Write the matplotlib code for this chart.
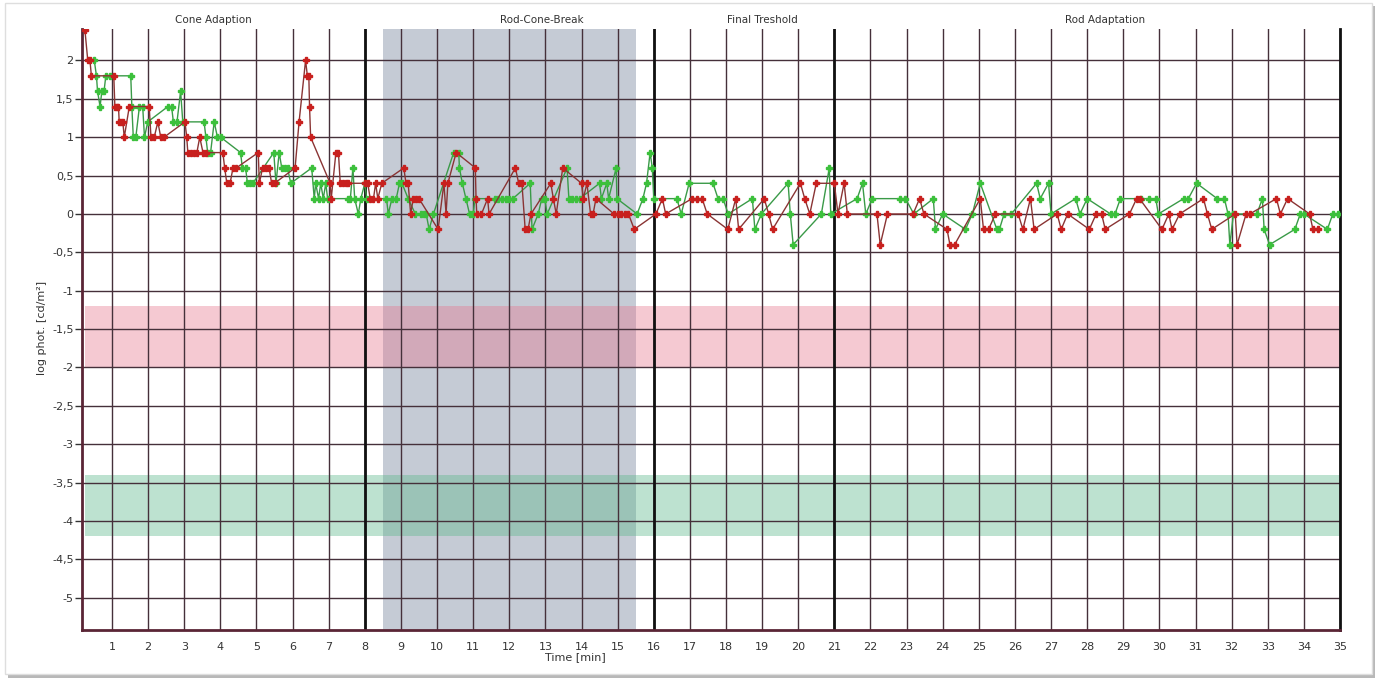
import matplotlib
matplotlib.use("Agg")
import matplotlib.pyplot as plt
import matplotlib.patches as mpatches
import matplotlib.transforms as mtrans

plt.rcParams['font.family'] = ['DejaVu Sans']
plt.rcParams['axes.unicode_minus'] = False

# ---------------- data ----------------
red_x = [0.25,0.33,0.39,0.43,1.05,1.08,1.13,1.18,1.20,1.25,1.30,1.34,1.48,2.03,2.08,2.17,2.27,2.35,2.44,
         3.02,3.07,3.10,3.18,3.27,3.35,3.43,3.52,3.60,4.07,4.12,4.18,4.27,4.35,4.44,5.05,5.08,5.17,5.26,5.35,
         5.42,5.50,6.07,6.18,6.36,6.41,6.45,6.47,6.50,7.04,7.07,7.20,7.27,7.32,7.40,7.47,7.54,8.00,8.08,8.15,
         8.24,8.30,8.36,8.47,9.08,9.14,9.20,9.27,9.34,9.42,9.50,10.03,10.19,10.25,10.30,10.53,11.06,11.08,
         11.10,11.23,11.40,11.44,12.17,12.26,12.35,12.44,12.52,12.60,13.15,13.22,13.30,13.48,14.00,14.05,
         14.15,14.25,14.32,14.40,14.90,15.00,15.10,15.20,15.30,15.46,16.06,16.24,16.33,17.06,17.20,17.34,
         17.48,18.05,18.27,18.35,19.06,19.18,19.29,20.06,20.18,20.32,20.50,21.00,21.10,21.27,21.36,22.18,
         22.27,22.47,23.18,23.36,23.48,24.12,24.20,24.33,25.04,25.13,25.27,25.46,26.09,26.22,26.43,26.53,
         27.17,27.28,27.46,28.06,28.25,28.40,28.50,29.17,29.37,29.45,30.07,30.26,30.35,30.56,31.22,31.33,
         31.45,32.10,32.15,32.40,32.50,33.24,33.35,33.55,34.16,34.25,34.40]
red_y = [2.4,2.0,2.0,1.8,1.8,1.4,1.4,1.4,1.2,1.2,1.2,1.0,1.4,1.4,1.0,1.0,1.2,1.0,1.0,
         1.2,1.0,0.8,0.8,0.8,0.8,1.0,0.8,0.8,0.8,0.6,0.4,0.4,0.6,0.6,0.8,0.4,0.6,0.6,0.6,
         0.4,0.4,0.6,1.2,2.0,1.8,1.8,1.4,1.0,0.4,0.2,0.8,0.8,0.4,0.4,0.4,0.4,0.4,0.4,0.2,
         0.2,0.4,0.2,0.4,0.6,0.4,0.4,0.0,0.2,0.2,0.2,-0.2,0.4,0.0,0.4,0.8,0.6,0.2,
         0.0,0.0,0.2,0.0,0.6,0.4,0.4,-0.2,-0.2,0.0,0.4,0.2,0.0,0.6,0.4,0.2,
         0.4,0.0,0.0,0.2,0.0,0.0,0.0,0.0,0.0,-0.2,0.0,0.2,0.0,0.2,0.2,0.2,
         0.0,-0.2,0.2,-0.2,0.2,0.0,-0.2,0.4,0.2,0.0,0.4,0.4,0.0,0.4,0.0,0.0,
         -0.4,0.0,0.0,0.2,0.0,-0.2,-0.4,-0.4,0.2,-0.2,-0.2,0.0,0.0,-0.2,0.2,-0.2,
         0.0,-0.2,0.0,-0.2,0.0,0.0,-0.2,0.0,0.2,0.2,-0.2,0.0,-0.2,0.0,0.2,0.0,
         -0.2,0.0,-0.4,0.0,0.0,0.2,0.0,0.2,0.0,-0.2,-0.2]

green_x = [0.51,0.57,0.60,0.67,0.72,0.78,0.83,0.94,1.52,1.55,1.59,1.66,1.76,1.85,1.90,1.99,2.55,2.65,2.70,
           2.80,2.90,2.96,3.55,3.60,3.65,3.73,3.83,3.92,4.01,4.56,4.61,4.70,4.75,4.83,4.90,5.48,5.54,5.63,
           5.70,5.78,5.86,5.95,6.53,6.60,6.64,6.72,6.78,6.85,6.92,6.97,7.54,7.60,7.67,7.72,7.82,7.89,8.00,
           8.05,8.60,8.65,8.75,8.87,8.96,9.03,9.20,9.40,9.55,9.65,9.70,9.78,9.90,10.46,10.60,10.62,10.70,
           10.80,10.90,11.00,11.05,11.60,11.70,11.80,11.90,12.00,12.10,12.58,12.63,12.80,12.90,12.98,13.05,
           13.60,13.65,13.75,13.85,13.95,14.50,14.55,14.70,14.75,14.96,14.98,15.54,15.70,15.80,15.90,15.96,
           16.00,16.64,16.76,16.98,17.64,17.78,17.92,18.06,18.73,18.80,18.98,19.72,19.78,19.86,20.64,20.86,
           20.90,21.63,21.78,21.87,22.05,22.83,22.97,23.20,23.74,23.80,24.00,24.63,24.82,25.04,25.50,25.57,
           25.70,25.90,26.60,26.70,26.93,27.00,27.68,27.80,28.00,28.65,28.77,28.92,29.50,29.70,29.90,29.97,
           30.67,30.80,31.03,31.60,31.80,31.90,31.95,32.05,32.70,32.85,32.90,33.05,33.75,33.90,34.00,34.65,
           34.80,34.95]
green_y = [2.0,1.8,1.6,1.4,1.6,1.6,1.8,1.8,1.8,1.4,1.0,1.0,1.4,1.4,1.0,1.2,1.4,1.4,1.2,
           1.2,1.6,1.2,1.2,1.0,0.8,0.8,1.2,1.0,1.0,0.8,0.6,0.6,0.4,0.4,0.4,0.8,0.4,0.8,
           0.6,0.6,0.6,0.4,0.6,0.2,0.4,0.2,0.4,0.2,0.4,0.2,0.2,0.2,0.6,0.2,0.0,0.2,0.4,
           0.2,0.2,0.0,0.2,0.2,0.4,0.4,0.2,0.0,0.0,0.0,0.0,-0.2,0.0,0.8,0.8,0.6,0.4,
           0.2,0.0,0.0,0.2,0.2,0.2,0.2,0.2,0.2,0.2,0.4,-0.2,0.0,0.2,0.2,0.0,
           0.6,0.2,0.2,0.2,0.2,0.4,0.2,0.4,0.2,0.6,0.2,0.0,0.2,0.4,0.8,0.6,
           0.2,0.2,0.0,0.4,0.4,0.2,0.2,0.0,0.2,-0.2,0.0,0.4,0.0,-0.4,0.0,0.6,
           0.0,0.2,0.4,0.0,0.2,0.2,0.2,0.0,0.2,-0.2,0.0,-0.2,0.0,0.4,-0.2,-0.2,
           0.0,0.0,0.4,0.2,0.4,0.0,0.2,0.0,0.2,0.0,0.0,0.2,0.2,0.2,0.2,0.0,
           0.2,0.2,0.4,0.2,0.2,0.0,-0.4,0.0,0.0,0.2,-0.2,-0.4,-0.2,0.0,0.0,-0.2,
           0.0,0.0]

phase_names = ["Cone Adaption", "Rod-Cone-Break", "Final Treshold", "Rod Adaptation"]
phase_bounds = [8, 16, 21]
break_span = (8.5, 15.5)
red_band = (-2.0, -1.2)
green_band = (-4.2, -3.4)
x_ticks = list(range(1, 36))
y_ticks = [2, 1.5, 1, 0.5, 0, -0.5, -1, -1.5, -2, -2.5, -3, -3.5, -4, -4.5, -5]

# ---------------- figure ----------------
W, H = 1378, 678
fig = plt.figure(figsize=(W / 100, H / 100), dpi=100)
fig.patch.set_facecolor('white')

# frame with shadow
fig.add_artist(mpatches.Rectangle((8 / W, 0 / H), 1367 / W, 672 / H, transform=fig.transFigure,
                                  facecolor='#b8b8b8', edgecolor='none', zorder=-2))
fig.add_artist(mpatches.Rectangle((5 / W, 4 / H), 1367 / W, 671 / H, transform=fig.transFigure,
                                  facecolor='white', edgecolor='#dedede', lw=1, zorder=-1))

ax = fig.add_axes([82 / W, 48 / H, 1258 / W, 601 / H])
ax.set_xlim(0.17, 35)
ax.set_ylim(-5.42, 2.41)
ax.set_facecolor('none')

gridc = '#45303a'
for xv in x_ticks:
    ax.axvline(xv, color=gridc, lw=1.0, zorder=2)
for yv in y_ticks:
    ax.axhline(yv, color=gridc, lw=1.0, zorder=2)
for xb in phase_bounds:
    ax.axvline(xb, color='#111111', lw=2.0, zorder=2.5)

ax.axvspan(break_span[0], break_span[1], color='#c5cbd5', lw=0, zorder=1)
ax.fill_between([0.25, 35], red_band[0], red_band[1], color='#e8788f', alpha=0.4, lw=0, zorder=1.5)
ax.fill_between([0.25, 35], green_band[0], green_band[1], color='#5cb88a', alpha=0.4, lw=0, zorder=1.5)

ax.plot(green_x, green_y, color='#3a9a48', lw=1.0, marker='P', ms=4.5,
        mfc='#3cc03c', mec='#3cc03c', zorder=4)
ax.plot(red_x, red_y, color='#8a3434', lw=1.0, marker='P', ms=4.5,
        mfc='#c8201e', mec='#c8201e', zorder=5)

for s in ['top']:
    ax.spines[s].set_visible(False)
ax.spines['left'].set_color('#5a2535')
ax.spines['left'].set_linewidth(2)
ax.spines['bottom'].set_color('#5a2535')
ax.spines['bottom'].set_linewidth(2)
ax.spines['right'].set_color('#111111')
ax.spines['right'].set_linewidth(2)

ax.set_xticks(x_ticks)
ax.set_xticklabels([str(v) for v in x_ticks])
ax.set_yticks(y_ticks)
ax.set_yticklabels([f"{v:g}".replace('.', ',') for v in y_ticks])
ax.tick_params(axis='x', length=0, pad=9, labelsize=8, labelcolor='#333333')
ax.tick_params(axis='y', length=5, width=1, color='#333333', pad=1, labelsize=8, labelcolor='#333333')

title_x = [3.8, 12.9, 19.0, 28.5]
tr = mtrans.blended_transform_factory(ax.transData, fig.transFigure)
for name, xv in zip(phase_names, title_x):
    ax.text(xv, 1 - 20 / H, name, transform=tr, ha='center', va='center', fontsize=7.5, color='#333333')

fig.text(575 / W, 1 - 657 / H, "Time [min]", ha='center', va='center', fontsize=8, color='#333333')
fig.text(42 / W, 1 - 328 / H, "log phot. [cd/m²]", ha='center', va='center', rotation=90,
         fontsize=8, color='#333333')

fig.savefig("out.png", dpi=100)
